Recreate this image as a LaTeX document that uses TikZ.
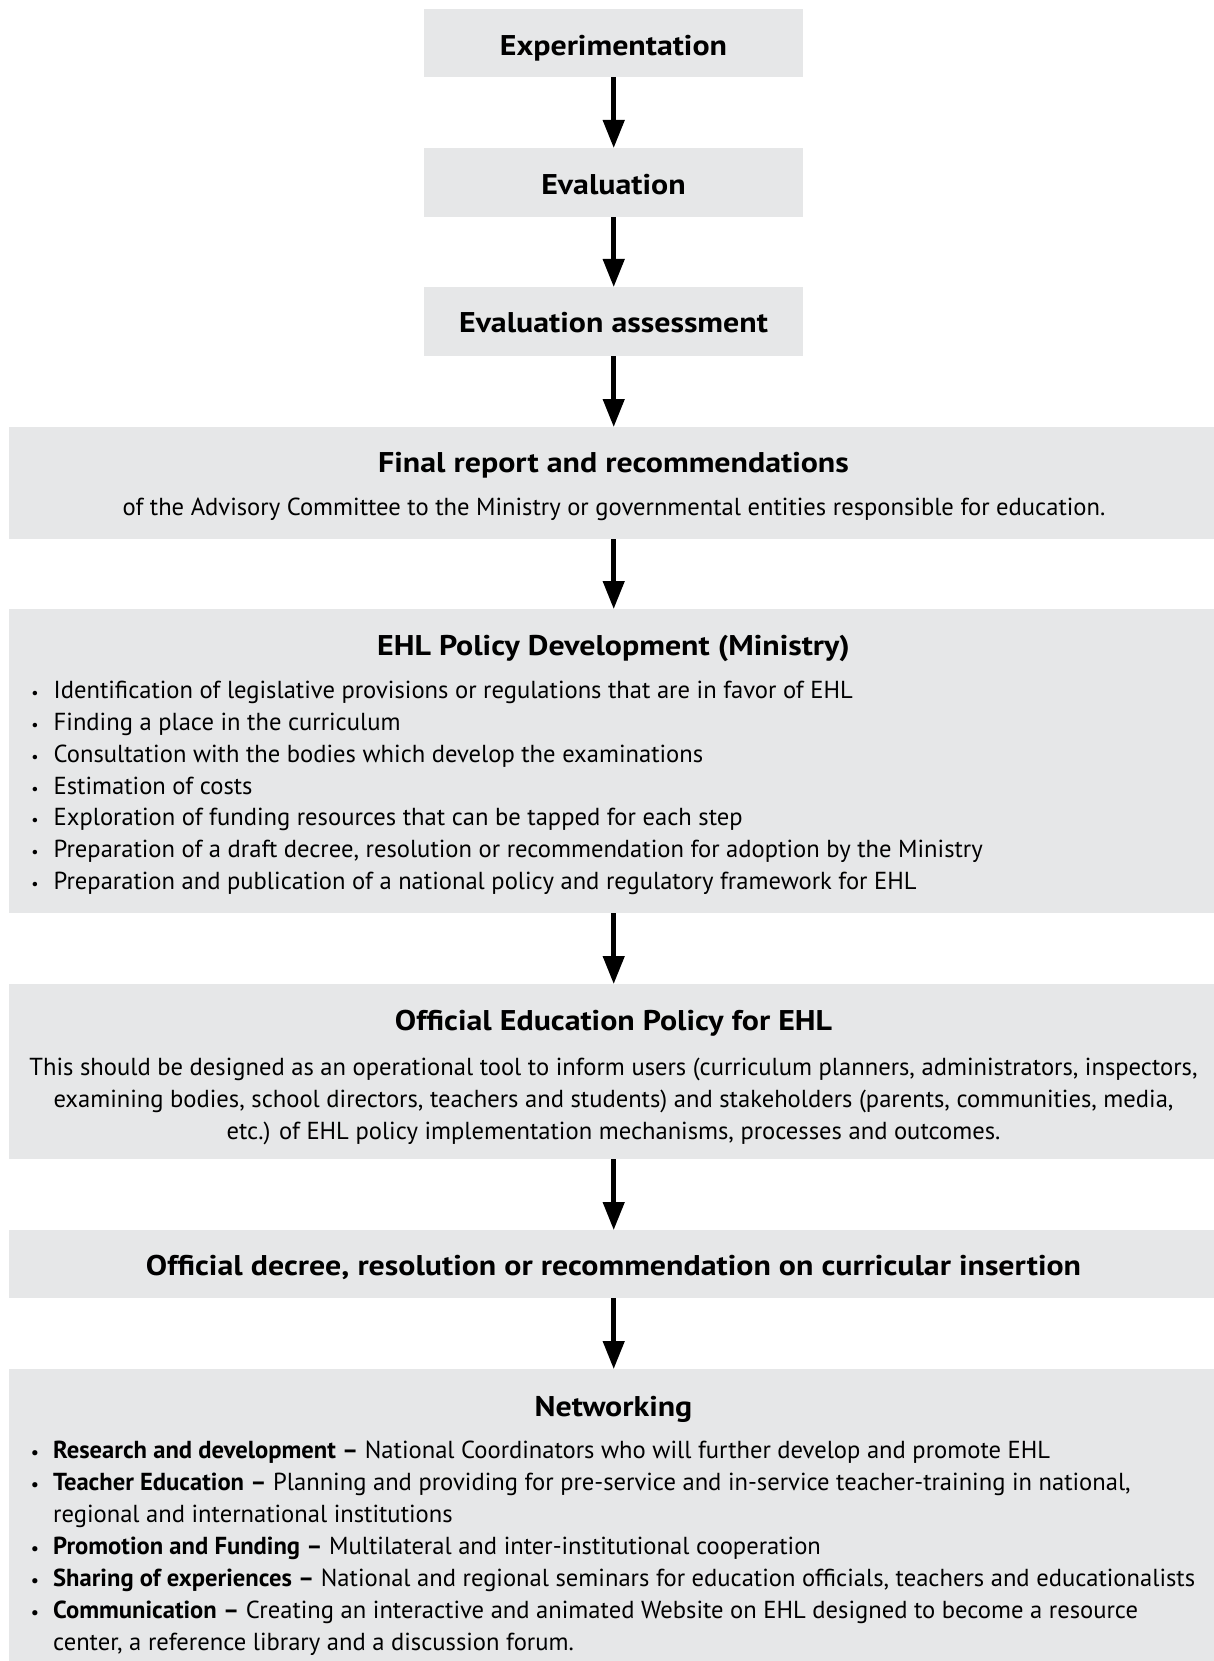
\documentclass[tikz,border=0pt]{standalone}
\usepackage{fontspec}
\setmainfont{PT Sans}
\usetikzlibrary{arrows.meta}
\definecolor{boxgray}{HTML}{E6E7E8}
\newcommand{\ttlscale}[1]{\scalebox{1.12}[1]{#1}}
\begin{document}
\begin{tikzpicture}[x=1pt,y=-1pt,
  box/.style={fill=boxgray, draw=none, inner sep=0pt, anchor=north west},
  ttl/.style={anchor=base, inner sep=0pt, font=\fontsize{28.5}{32}\selectfont\bfseries},
  body/.style={anchor=base, inner sep=0pt, font=\fontsize{24.6}{30}\selectfont},
  lft/.style={anchor=base west, inner sep=0pt, font=\fontsize{24.6}{30}\selectfont},
  bul/.style={anchor=base, inner sep=0pt, font=\fontsize{16}{20}\selectfont},
  bbul/.style={anchor=base, inner sep=0pt, font=\fontsize{17}{20}\selectfont\bfseries},
  arr/.style={line width=4.5pt, -{Triangle[width=21pt,length=28pt]}}]
\useasboundingbox (0,0) rectangle (1214,1661);
% boxes
\node[box, minimum width=379pt, minimum height=68pt] (b1) at (424,9) {};
\node[box, minimum width=379pt, minimum height=69pt] (b2) at (424,148) {};
\node[box, minimum width=379pt, minimum height=69pt] (b3) at (424,287) {};
\node[box, minimum width=1205pt, minimum height=112pt] (b4) at (9,427) {};
\node[box, minimum width=1205pt, minimum height=304pt] (b5) at (9,609) {};
\node[box, minimum width=1205pt, minimum height=175pt] (b6) at (9,984) {};
\node[box, minimum width=1205pt, minimum height=68pt] (b7) at (9,1230) {};
\node[box, minimum width=1205pt, minimum height=292pt] (b8) at (9,1369) {};
% arrows
\draw[arr] (b1.south) -- (b2.north);
\draw[arr] (b2.south) -- (b3.north);
\draw[arr] (b3.south) -- (b3.south |- b4.north);
\draw[arr] (b4.south -| b3.south) -- (b3.south |- b5.north);
\draw[arr] (b5.south -| b3.south) -- (b3.south |- b6.north);
\draw[arr] (b6.south -| b3.south) -- (b3.south |- b7.north);
\draw[arr] (b7.south -| b3.south) -- (b3.south |- b8.north);
% titles
\node[ttl] (t1) at (613.5,56) {\ttlscale{Experimentation}};
\node[ttl] (t2) at (613.5,194.5) {\ttlscale{Evaluation}};
\node[ttl] (t3) at (613.5,332.5) {\ttlscale{Evaluation assessment}};
\node[ttl] (t4) at (613.5,472.5) {\ttlscale{Final report and recommendations}};
\node[body] (s4) at (614,515.5) {of the Advisory Committee to the Ministry or governmental entities responsible for education.};
\node[ttl] (t5) at (613.5,655.5) {\ttlscale{EHL Policy Development (Ministry)}};
\foreach \yy/\txt [count=\i] in {698.5/{Identification of legislative provisions or regulations that are in favor of EHL},
  730.5/{Finding a place in the curriculum},
  762/{Consultation with the bodies which develop the examinations},
  794/{Estimation of costs},
  825.5/{Exploration of funding resources that can be tapped for each step},
  857.5/{Preparation of a draft decree, resolution or recommendation for adoption by the Ministry},
  889.5/{Preparation and publication of a national policy and regulatory framework for EHL}}{
  \node[bul] (p\i) at (35,\yy) {•};
  \node[lft] (q\i) at (53.5,\yy) {\txt};
}
\node[ttl] (t6) at (613.5,1030.5) {\ttlscale{Official Education Policy for EHL}};
\node[body] (s6a) at (613.5,1075.5) {This should be designed as an operational tool to inform users (curriculum planners, administrators, inspectors,};
\node[body] (s6b) at (613.5,1107.5) {examining bodies, school directors, teachers and students) and stakeholders (parents, communities, media,};
\node[body] (s6c) at (613.5,1139) {etc.) of EHL policy implementation mechanisms, processes and outcomes.};
\node[ttl] (t7) at (613.5,1275.5) {\ttlscale{Official decree, resolution or recommendation on curricular insertion}};
\node[ttl] (t8) at (613.5,1416.5) {\ttlscale{Networking}};
\node[bbul] (n1b) at (35,1458) {•};
\node[lft] (n1) at (53,1458) {\textbf{Research and development –} National Coordinators who will further develop and promote EHL};
\node[bbul] (n2b) at (35,1490) {•};
\node[lft] (n2) at (53,1490) {\textbf{Teacher Education –} Planning and providing for pre-service and in-service teacher-training in national,};
\node[lft] (n2c) at (53,1522) {regional and international institutions};
\node[bbul] (n3b) at (35,1554) {•};
\node[lft] (n3) at (53,1554) {\textbf{Promotion and Funding –} Multilateral and inter-institutional cooperation};
\node[bbul] (n4b) at (35,1586) {•};
\node[lft] (n4) at (53,1586) {\textbf{Sharing of experiences –} National and regional seminars for education officials, teachers and educationalists};
\node[bbul] (n5b) at (35,1618) {•};
\node[lft] (n5) at (53,1618) {\textbf{Communication –} Creating an interactive and animated Website on EHL designed to become a resource};
\node[lft] (n5c) at (53,1650) {center, a reference library and a discussion forum.};
\end{tikzpicture}
\end{document}
